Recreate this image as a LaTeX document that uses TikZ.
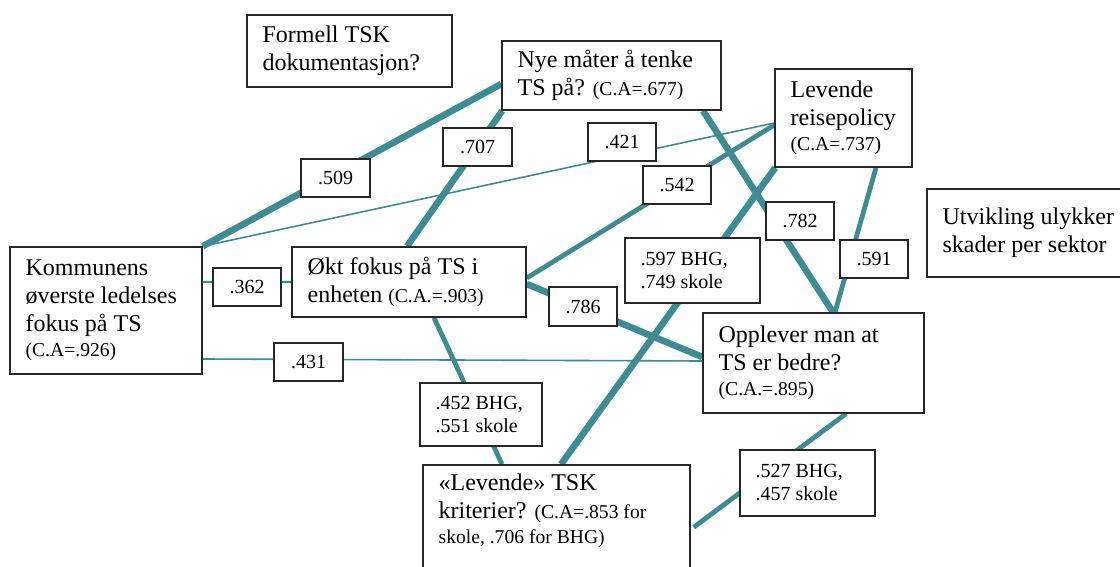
\documentclass[tikz,border=0pt]{standalone}
\usepackage{fontspec}
\setmainfont{Liberation Serif}
\usetikzlibrary{calc}
\definecolor{tealline}{RGB}{61,139,147}
\pgfdeclarelayer{bg}
\pgfsetlayers{bg,main}
\newcommand{\smtxt}[1]{{\fontsize{9.8}{12}\selectfont #1}}
\begin{document}
\begin{tikzpicture}[x=0.5pt,y=-0.5pt,
  box/.style={draw=black!85, line width=0.75pt, fill=white, inner sep=0pt},
  txt/.style={anchor=west, align=left, inner xsep=8pt, inner ysep=0pt, font=\fontsize{12}{14}\selectfont},
  lbl/.style={draw=black!85, line width=0.75pt, fill=white, inner sep=0pt, font=\fontsize{10}{11.5}\selectfont},
  ltxt/.style={anchor=west, align=left, inner xsep=8pt, inner ysep=0pt, font=\fontsize{10}{11.5}\selectfont},
  wthick/.style={draw=tealline, line width=3.3pt},
  wmed/.style={draw=tealline, line width=2.4pt},
  wthin/.style={draw=tealline, line width=0.8pt}]
\useasboundingbox (0,0) rectangle (1120,567);

% main boxes
\node[box, minimum width=102.5pt, minimum height=36pt] (form) at (349.5,51) {};
\node[txt] (formt) at (form.west) {Formell TSK\\dokumentasjon?};

\node[box, minimum width=109.5pt, minimum height=34.5pt] (nye) at (611.5,75.5) {};
\node[txt] (nyet) at (nye.west) {Nye måter å tenke\\TS på? \smtxt{(C.A=.677)}};

\node[box, minimum width=68.5pt, minimum height=49pt] (lrp) at (843.5,118) {};
\node[txt] (lrpt) at (lrp.west) {Levende\\reisepolicy\\[-1.5pt]\smtxt{(C.A=.737)}};

\node[box, minimum width=101.5pt, minimum height=44pt] (utv) at (1028.5,233) {};
\node[txt] (utvt) at (utv.west) {Utvikling ulykker\\skader per sektor};

\node[box, minimum width=96pt, minimum height=63.5pt] (kom) at (106,310.5) {};
\node[txt] (komt) at (kom.west) {Kommunens\\øverste ledelses\\fokus på TS\\[-1.5pt]\smtxt{(C.A=.926)}};

\node[box, minimum width=117pt, minimum height=35pt] (okt) at (409,282) {};
\node[txt] (oktt) at (okt.west) {Økt fokus på TS i\\enheten \smtxt{(C.A.=.903)}};

\node[box, minimum width=110.5pt, minimum height=50pt] (opp) at (813.5,363) {};
\node[txt] (oppt) at (opp.west) {Opplever man at\\TS er bedre?\\[-1.5pt]\smtxt{(C.A.=.895)}};

\node[box, minimum width=133.5pt, minimum height=65pt] (ltsk) at (556.5,530) {};
\node[txt] (ltskt) at ($(ltsk.north west)+(0,47)$) {«Levende» TSK\\kriterier? \smtxt{(C.A=.853 for}\\[-1.5pt]\smtxt{skole, .706 for BHG)}};

% label boxes
\node[lbl, minimum width=34.5pt, minimum height=19pt] (l509) at (335.5,178) {.509};
\node[lbl, minimum width=34.5pt, minimum height=19pt] (l707) at (477.5,147) {.707};
\node[lbl, minimum width=34pt, minimum height=19pt] (l421) at (622,142) {.421};
\node[lbl, minimum width=34pt, minimum height=19pt] (l542) at (677,185) {.542};
\node[lbl, minimum width=34pt, minimum height=19pt] (l782) at (800,221) {.782};
\node[lbl, minimum width=34pt, minimum height=19pt] (l591) at (874,259) {.591};
\node[lbl, minimum width=34pt, minimum height=19pt] (l362) at (247,287) {.362};
\node[lbl, minimum width=34.5pt, minimum height=19pt] (l431) at (308.5,362) {.431};
\node[lbl, minimum width=34pt, minimum height=19.5pt] (l786) at (583,306.5) {.786};

\node[lbl, minimum width=67.5pt, minimum height=32.5pt] (l597) at (692.5,270.5) {};
\node[ltxt] (l597t) at (l597.west) {.597 BHG,\\.749 skole};
\node[lbl, minimum width=61pt, minimum height=31.5pt] (l452) at (481,414.5) {};
\node[ltxt] (l452t) at (l452.west) {.452 BHG,\\.551 skole};
\node[lbl, minimum width=67.5pt, minimum height=33pt] (l527) at (807.5,483) {};
\node[ltxt] (l527t) at (l527.west) {.527 BHG,\\.457 skole};

% connectors
\begin{pgfonlayer}{bg}
\draw[wthick] (kom.north east) -- ($(nye.west)+(0,8.5)$);
\draw[wthin]  (kom.north east) -- ($(lrp.west)+(0,5)$);
\draw[wthick] ($(okt.north)+(-2,0)$) -- ($(nye.south west)+(1,0)$);
\draw[wthin]  ($(kom.east)+(0,-28.5)$) -- (okt.west);
\draw[wthin]  ($(kom.east)+(0,48.5)$) -- ($(opp.west)+(0,-2)$);
\draw[wmed]   ($(okt.east)+(0,-4)$) -- ($(lrp.west)+(0,7)$);
\draw[wthick] ($(nye.south)+(91.5,0)$) -- ($(opp.north)+(19.5,0)$);
\draw[wmed]   ($(lrp.south)+(32.5,0)$) -- ($(opp.north)+(21.5,0)$);
\draw[wthick] ($(lrp.south west)+(1,0)$) -- ($(ltsk.north)+(4.5,0)$);
\draw[wthick] ($(okt.east)+(0,2)$) -- ($(opp.west)+(0,-6)$);
\draw[wmed]   ($(okt.south)+(25,0)$) -- ($(ltsk.north)+(-54.5,0)$);
\draw[wmed]   ($(opp.south)+(32.5,0)$) -- ($(ltsk.north east)+(3,63)$);
\end{pgfonlayer}
\end{tikzpicture}
\end{document}
